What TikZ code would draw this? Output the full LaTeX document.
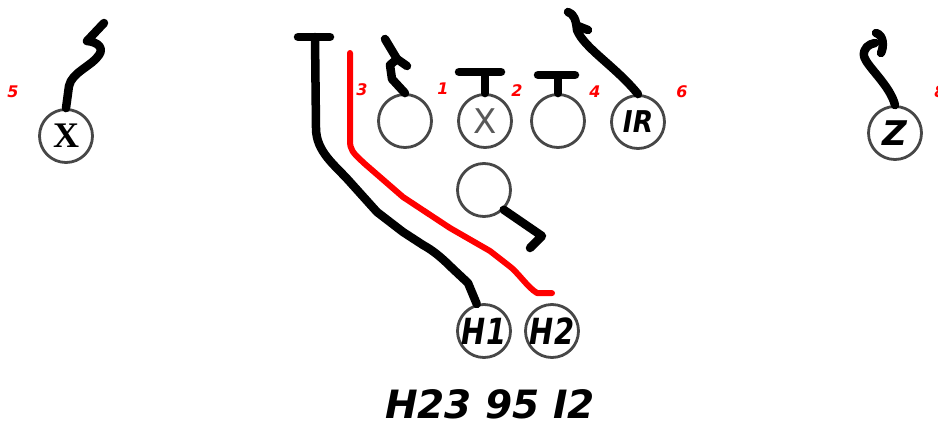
\documentclass[tikz,border=0pt]{standalone}
\usepackage{graphicx}
\usepackage{fontspec}
\setmainfont{DejaVu Sans}
\newfontfamily\serifx{Liberation Serif}

\begin{document}
\begin{tikzpicture}[
    x=1pt, y=-1pt,
    player/.style={draw=black!72, line width=2.8pt, circle, minimum size=53pt, inner sep=0pt, fill=white},
    route/.style={line width=8.5pt, line cap=round, line join=round},
    hotroute/.style={red, line width=6pt, line cap=round, line join=round},
    gap/.style={text=red, font=\fontsize{16}{16}\selectfont\bfseries\itshape},
    tag/.style={font=\fontsize{36}{36}\selectfont\bfseries\itshape}
]
    \useasboundingbox (0,0) rectangle (938,426);

    % ================= PLAYERS =================
    \node[player] (wx) at (66,136) {\serifx\fontsize{36}{36}\selectfont\bfseries X};
    \node[player] (lg) at (405,121) {};
    \node[player] (ctr) at (485,121) {\fontsize{34}{34}\selectfont\color{black!65}X};
    \node[player] (rg) at (558,121) {};
    \node[player] (ir) at (638,122) {\fontsize{30}{30}\selectfont\bfseries\itshape\scalebox{0.88}[1]{IR}};
    \node[player] (zr) at (895,133) {\fontsize{34}{34}\selectfont\bfseries\itshape Z};
    \node[player] (qb) at (484,190) {};
    \node[player] (h1) at (484,331) {\fontsize{36}{36}\selectfont\bfseries\itshape\scalebox{0.8}[1]{H1}};
    \node[player] (h2) at (552,331) {\fontsize{36}{36}\selectfont\bfseries\itshape\scalebox{0.8}[1]{H2}};

    % ================= GAP NUMBERS =================
    \node[gap] (g5) at (13,92) {5};
    \node[gap] (g3) at (362,90) {3};
    \node[gap] (g1) at (443,89) {1};
    \node[gap] (g2) at (517,91) {2};
    \node[gap] (g4) at (595,92) {4};
    \node[gap] (g6) at (682,92) {6};
    \node[gap] (g8) at (940,92) {8};

    % ================= ROUTES =================

    % X release
    \draw[route] (wx.north) -- (69,86) .. controls (72,72) and (92,66) .. (99,55)
        .. controls (104,48) and (98,42) .. (87,41) -- (104,23);

    % left side line
    \draw[route] (lg.north) -- (392,79) -- (390,65) -- (397,59) -- (407,66);
    \draw[route] (397,59) -- (385,39);

    % blocks
    \draw[route] (ctr.north) |- (459,72) -- (501,72);
    \draw[route] (rg.north) |- (538,75) -- (575,75);

    % IR release
    \draw[route] (ir.north) .. controls (615,66) and (584,48) .. (577,30)
        .. controls (576,20) and (574,14) .. (568,12);
    \draw[route] (578,26) -- (588,30);

    % Z release
    \draw[route] (zr.north) .. controls (890,85) and (866,66) .. (864,56)
        .. controls (863,48) and (869,44) .. (875,43);
    \draw[route] (876,33) .. controls (884,35) and (884,47) .. (881,53);

    % QB drop
    \draw[route] (qb.south east) -- (542,236) -- (530,248);

    % H1 path
    \draw[route] (h1.105) -- (468,283) -- (452,268) .. controls (440,256) and (432,250) .. (423,245)
        -- (403,232) -- (377,212) -- (350,182) .. controls (335,165) and (316,152) .. (316,128) -- (315,37);
    \draw[route] (298,37) -- (330,37);

    % H2 path
    \draw[hotroute] (h2.north) ++(0,-10) -- (537,293) .. controls (527,287) and (518,272) .. (508,265)
        -- (490,251) -- (450,228) -- (403,197) -- (365,164) .. controls (352,152) and (350,150) .. (350,140) -- (350,53);

    % ================= CALL =================
    \node[inner sep=0pt, font=\fontsize{39}{39}\selectfont\bfseries\itshape] (call) at (490,404) {H23 95 I2};

\end{tikzpicture}
\end{document}
